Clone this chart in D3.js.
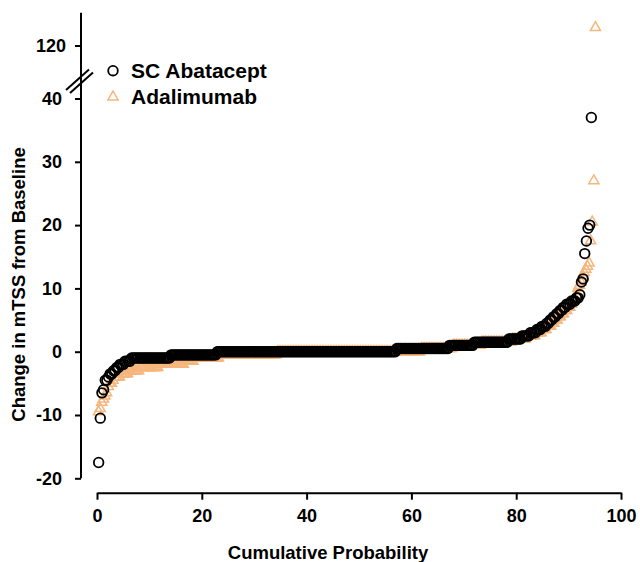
<!DOCTYPE html>
<html>
<head>
<meta charset="utf-8">
<script src="https://cdn.jsdelivr.net/npm/d3@7"></script>
<style>
  body { margin: 0; background: #fff; }
  svg { display: block; font-family: "Liberation Sans", Arial, sans-serif; }
</style>
</head>
<body>
<svg id="chart"></svg>
<script>
// mTSS change per patient, sorted, as value + number of patients with that value
const abataceptChange = [-17.5, -10.5, -6.5, -6, -4.5, -4, -3.5, -3, -2.5, -2, -1.5, -1, -0.5, 0, 0.5, 1, 1.5, 2, 2.5, 3, 3.5, 4, 4.5, 5, 5.5, 6, 6.5, 7, 7.5, 8, 8.5, 9, 11, 11.5, 15.5, 17.5, 19.5, 20, 37];
const abataceptCount = [1, 1, 1, 1, 2, 1, 2, 2, 2, 3, 4, 24, 28, 109, 32, 15, 21, 8, 5, 4, 3, 3, 2, 2, 2, 2, 2, 2, 3, 3, 2, 1, 1, 1, 1, 1, 1, 1, 1];
const adalimumabChange = [-9.5, -9, -8, -7.5, -7, -6.5, -5.5, -5, -4.5, -4, -3.5, -3, -2.5, -2, -1.5, -1, -0.5, 0, 0.5, 1, 1.5, 2, 2.5, 3, 3.5, 4, 4.5, 5, 5.5, 6, 6.5, 7, 7.5, 8, 8.5, 9, 10, 10.5, 11, 12, 12.5, 13, 13.5, 14, 17.5, 20.5, 27, 131];
const adalimumabCount = [1, 1, 1, 1, 1, 1, 1, 2, 1, 4, 5, 7, 12, 16, 6, 16, 36, 90, 20, 18, 19, 9, 6, 4, 3, 3, 2, 2, 2, 2, 2, 2, 1, 1, 1, 1, 1, 1, 1, 1, 1, 1, 1, 1, 1, 1, 1, 1];
// randomized patients (denominator of the cumulative probability)
const abataceptN = 318;
const adalimumabN = 328;

const seriesNames = ["SC Abatacept", "Adalimumab"];
const xTicks = [0, 20, 40, 60, 80, 100];
const yTicksLower = [-20, -10, 0, 10, 20, 30, 40];
const yTicksUpper = [120];

class CumulativePlot {
    constructor(_config) {
        this.config = {
            parentElement: _config.parentElement,
            containerWidth: 640,
            containerHeight: 562,
            circleColor: "#000000",
            triangleColor: "#F5B67C",
            radius: 4.8
        };
        this.initVis();
    }

    initVis() {
        let vis = this;

        vis.svg = d3.select(vis.config.parentElement)
            .attr("width", vis.config.containerWidth)
            .attr("height", vis.config.containerHeight);

        vis.xScale = d3.scaleLinear().domain([0, 100]).range([97, 621]);
        // broken y axis: lower part -20..40, upper part 100..140
        vis.yLower = d3.scaleLinear().domain([-20, 40]).range([478.3, 98.5]);
        vis.yUpper = d3.scaleLinear().domain([100, 140]).range([78, 13]);
        vis.yValue = v => v > 40 ? vis.yUpper(v) : vis.yLower(v);

        vis.updateVis();
    }

    updateVis() {
        let vis = this;
        const expand = (values, counts, n) => {
            let rank = 0;
            const out = [];
            values.forEach((v, i) => {
                for (let k = 0; k < counts[i]; k++) {
                    rank++;
                    out.push({ prob: rank / n * 100, change: v });
                }
            });
            return out;
        };
        vis.abatacept = expand(abataceptChange, abataceptCount, abataceptN);
        vis.adalimumab = expand(adalimumabChange, adalimumabCount, adalimumabN);
        vis.renderVis();
    }

    renderVis() {
        let vis = this;
        const plain = d => String(d);   // hyphen minus like the original

        const styleTicks = sel => sel
            .attr("fill", "#000")
            .style("font-size", "18px")
            .style("font-weight", "bold")
            .style("font-family", "Liberation Sans, Arial, sans-serif");

        // x axis
        const xAxis = d3.axisBottom(vis.xScale).tickValues(xTicks).tickFormat(plain)
            .tickSize(7).tickSizeOuter(0).tickPadding(10);
        const gx = vis.svg.append("g").attr("transform", "translate(0,492.7)").call(xAxis);
        gx.select(".domain").attr("stroke", "#000").attr("stroke-width", 2);
        gx.selectAll(".tick line").attr("stroke-width", 2);
        styleTicks(gx.selectAll(".tick text"));

        // y axis line drawn across both parts
        vis.svg.append("line")
            .attr("x1", 81).attr("x2", 81)
            .attr("y1", 12.7).attr("y2", vis.yLower(-20))
            .attr("stroke", "#000").attr("stroke-width", 2);

        const yAxisLower = d3.axisLeft(vis.yLower).tickValues(yTicksLower).tickFormat(plain)
            .tickSize(6).tickSizeOuter(0).tickPadding(13);
        const gy = vis.svg.append("g").attr("transform", "translate(81,0)").call(yAxisLower);
        const yAxisUpper = d3.axisLeft(vis.yUpper).tickValues(yTicksUpper).tickFormat(plain)
            .tickSize(6).tickSizeOuter(0).tickPadding(9);
        const gy2 = vis.svg.append("g").attr("transform", "translate(81,0)").call(yAxisUpper);
        [gy, gy2].forEach(g => {
            g.select(".domain").remove();
            g.selectAll(".tick line").attr("stroke-width", 2);
            styleTicks(g.selectAll(".tick text"));
        });

        // axis break marks
        vis.svg.append("line")
            .attr("x1", 66).attr("y1", 90).attr("x2", 89).attr("y2", 69.5)
            .attr("stroke", "#000").attr("stroke-width", 2);
        vis.svg.append("line")
            .attr("x1", 70).attr("y1", 93).attr("x2", 93).attr("y2", 72.5)
            .attr("stroke", "#000").attr("stroke-width", 2);

        // axis titles
        vis.svg.append("text")
            .attr("x", 328)
            .attr("y", 559)
            .attr("text-anchor", "middle")
            .style("font-size", "18.5px")
            .style("font-weight", "bold")
            .text("Cumulative Probability");

        vis.svg.append("text")
            .attr("transform", "translate(25,284.5) rotate(-90)")
            .attr("text-anchor", "middle")
            .style("font-size", "18.5px")
            .style("font-weight", "bold")
            .text("Change in mTSS from Baseline");

        // points: triangles underneath, circles on top
        const triangle = d3.symbol().type(d3.symbolTriangle).size(45);

        vis.svg.append("g").selectAll(".tri")
            .data(vis.adalimumab)
            .join("path")
            .attr("class", "tri")
            .attr("d", triangle)
            .attr("transform", d => `translate(${vis.xScale(d.prob)},${vis.yValue(d.change)})`)
            .attr("fill", "none")
            .attr("stroke", vis.config.triangleColor)
            .attr("stroke-width", 1.5);

        vis.svg.append("g").selectAll(".dot")
            .data(vis.abatacept)
            .join("circle")
            .attr("class", "dot")
            .attr("cx", d => vis.xScale(d.prob))
            .attr("cy", d => vis.yValue(d.change))
            .attr("r", vis.config.radius)
            .attr("fill", "none")
            .attr("stroke", vis.config.circleColor)
            .attr("stroke-width", 1.8);

        // legend
        const legend = vis.svg.selectAll(".legend")
            .data(seriesNames)
            .join("g")
            .attr("class", "legend")
            .attr("transform", (d, i) => `translate(113,${70.7 + i * 26.3})`);

        legend.filter((d, i) => i === 0).append("circle")
            .attr("r", vis.config.radius)
            .attr("fill", "none")
            .attr("stroke", vis.config.circleColor)
            .attr("stroke-width", 1.8);

        legend.filter((d, i) => i === 1).append("path")
            .attr("d", triangle)
            .attr("fill", "none")
            .attr("stroke", vis.config.triangleColor)
            .attr("stroke-width", 1.5);

        legend.append("text")
            .attr("x", 18)
            .attr("y", 7)
            .style("font-size", "21px")
            .style("font-weight", "bold")
            .attr("fill", "#000")
            .text(d => d);
    }
}

new CumulativePlot({ parentElement: "#chart" });
</script>
</body>
</html>
